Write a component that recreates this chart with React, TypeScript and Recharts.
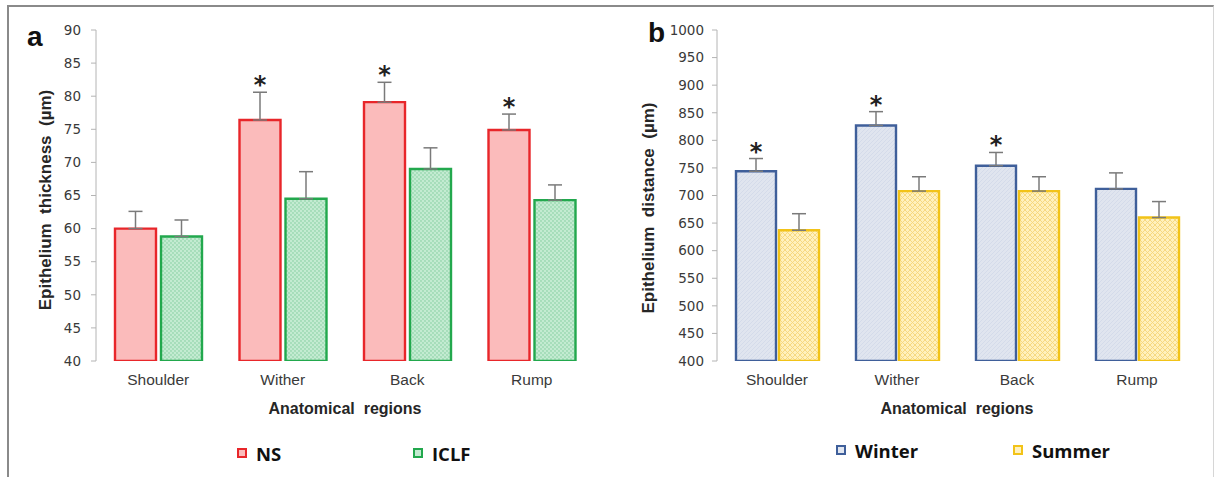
import React from 'react';
import { BarChart, Bar, XAxis, YAxis, ErrorBar, LabelList, Label } from 'recharts';

// Panel a — epithelium thickness by anatomical region
const categories = ['Shoulder', 'Wither', 'Back', 'Rump'];
const nsValues = [60.0, 76.4, 79.1, 74.9];
const nsErrors = [2.6, 4.2, 3.0, 2.4];
const nsSignificant = [false, true, true, true];
const iclfValues = [58.8, 64.5, 69.0, 64.3];
const iclfErrors = [2.5, 4.1, 3.2, 2.3];
const thicknessTicks = [40, 45, 50, 55, 60, 65, 70, 75, 80, 85, 90];

// Panel b — epithelium distance by season
const winterValues = [744, 827, 754, 712];
const winterErrors = [23, 25, 24, 29];
const winterSignificant = [true, true, true, false];
const summerValues = [637, 708, 708, 660];
const summerErrors = [30, 26, 26, 29];
const distanceTicks = [400, 450, 500, 550, 600, 650, 700, 750, 800, 850, 900, 950, 1000];

const edgeTicks = [0, 1, 2, 3, 4];

const thicknessData = categories.map((name, i) => ({
    name,
    a: nsValues[i],
    aErr: [0, nsErrors[i]],
    b: iclfValues[i],
    bErr: [0, iclfErrors[i]],
}));

const distanceData = categories.map((name, i) => ({
    name,
    a: winterValues[i],
    aErr: [0, winterErrors[i]],
    b: summerValues[i],
    bErr: [0, summerErrors[i]],
}));

const AXIS_GREY = '#b4b4b4';
const TICK_TEXT = '#3a3a3a';

// asterisk above the error whisker of significant bars
function starLabel(errors: number[], flags: boolean[], yMin: number) {
    return (props: any) => {
        const { x, y, width, height, value, index } = props;
        if (!flags[index]) return null;
        const pxPerUnit = Number(height) / (Number(value) - yMin);
        const errTop = Number(y) - errors[index] * pxPerUnit;
        const cx = Number(x) + Number(width) / 2;
        return (
            <text
                x={cx}
                y={errTop - 13 + 14}
                textAnchor="middle"
                fontSize={24}
                fontWeight={700}
                fontFamily="DejaVu Sans, sans-serif"
                fill="#222"
            >
                *
            </text>
        );
    };
}

function yTitle(text: string, dx: number, cy: number) {
    return (props: any) => {
        const vb = props.viewBox || {};
        const x = (vb.x ?? 0) + dx;
        return (
            <text
                x={x}
                y={cy}
                transform={`rotate(-90, ${x}, ${cy})`}
                textAnchor="middle"
                dominantBaseline="central"
                fontSize={17}
                fontWeight={700}
                fontFamily="Liberation Sans, Arial, sans-serif"
                fill="#262626"
                style={{ whiteSpace: 'pre' }}
            >
                {text}
            </text>
        );
    };
}

function xTitle(props: any) {
    const vb = props.viewBox || {};
    const x = (vb.x ?? 0) + (vb.width ?? 0) / 2;
    return (
        <text
            x={x}
            y={(vb.y ?? 0) + 47}
            textAnchor="middle"
            dominantBaseline="central"
            fontSize={16}
            fontWeight={700}
            fontFamily="Liberation Sans, Arial, sans-serif"
            fill="#262626"
            style={{ whiteSpace: 'pre' }}
        >
            Anatomical  regions
        </text>
    );
}

interface PanelProps {
    data: typeof thicknessData;
    letter: string;
    domain: [number, number];
    ticks: number[];
    title: string;
    titleDx: number;
    titleCy: number;
    marginLeft: number;
    marginRight: number;
    barSize: number;
    barGap: number;
    aStroke: string;
    aFill: string;
    bStroke: string;
    bFill: string;
    aErrors: number[];
    aFlags: boolean[];
    tickMargin: number;
    defs: React.ReactNode;
}

function Panel(p: PanelProps) {
    return (
        <BarChart
            width={606}
            height={477}
            data={p.data}
            margin={{ top: 30, right: p.marginRight, left: p.marginLeft, bottom: 86 }}
            barSize={p.barSize}
            barGap={p.barGap}
        >
            {p.defs}
            <XAxis
                xAxisId="edges"
                type="number"
                domain={[0, 4]}
                ticks={edgeTicks}
                height={0}
                tick={false}
                tickSize={5}
                stroke={AXIS_GREY}
                allowDataOverflow
            />
            <XAxis
                dataKey="name"
                height={30}
                axisLine={false}
                tickLine={false}
                tickSize={6}
                tickMargin={7}
                tick={{ fontSize: 15.5, fill: TICK_TEXT, fontFamily: 'Liberation Sans, Arial, sans-serif' }}
            >
                <Label content={xTitle} />
            </XAxis>
            <YAxis
                width={60}
                domain={p.domain}
                ticks={p.ticks}
                interval={0}
                allowDataOverflow
                stroke={AXIS_GREY}
                tickSize={5}
                tickMargin={p.tickMargin}
                tick={{ fontSize: 13.5, fill: TICK_TEXT, fontFamily: 'DejaVu Sans, sans-serif' }}
            >
                <Label content={yTitle(p.title, p.titleDx, p.titleCy)} />
            </YAxis>
            <Bar dataKey="a" fill={p.aFill} stroke={p.aStroke} strokeWidth={2.4} isAnimationActive={false}>
                <ErrorBar dataKey="aErr" width={7} stroke="#7a7a7a" strokeWidth={1.5} direction="y" />
                <LabelList dataKey="a" content={starLabel(p.aErrors, p.aFlags, p.domain[0])} />
            </Bar>
            <Bar dataKey="b" fill={p.bFill} stroke={p.bStroke} strokeWidth={2.4} isAnimationActive={false}>
                <ErrorBar dataKey="bErr" width={7} stroke="#7a7a7a" strokeWidth={1.5} direction="y" />
            </Bar>
            <text
                x={p.marginLeft - 9}
                y={p.letter === 'a' ? 46 : 42}
                textAnchor="start"
                fontSize={28}
                fontWeight={700}
                fontFamily="Liberation Sans, Arial, sans-serif"
                fill="#111"
            >
                {p.letter}
            </text>
        </BarChart>
    );
}

function LegendItem({ left, top, stroke, fill, label }: { left: number; top: number; stroke: string; fill: string; label: string }) {
    return (
        <div style={{ position: 'absolute', left, top, height: 26, display: 'flex', alignItems: 'center' }}>
            <div style={{ width: 10, height: 10, boxSizing: 'border-box', border: `2px solid ${stroke}`, background: fill }} />
            <span style={{ marginLeft: 9, fontFamily: 'Open Sans, sans-serif', fontWeight: 700, fontSize: 18.5, color: '#111' }}>
                {label}
            </span>
        </div>
    );
}

export default function App() {
    const leftDefs = (
        <defs>
            <pattern id="iclfDots" width="4" height="4" patternUnits="userSpaceOnUse">
                <rect width="4" height="4" fill="#c3ebd1" />
                <circle cx="1" cy="1" r="0.9" fill="#9ad8b0" />
                <circle cx="3" cy="3" r="0.9" fill="#9ad8b0" />
            </pattern>
        </defs>
    );
    const rightDefs = (
        <defs>
            <pattern id="winterHatch" width="4" height="4" patternUnits="userSpaceOnUse">
                <rect width="4" height="4" fill="#e0e5ef" />
                <path d="M0,4 L4,0 M-1,1 L1,-1 M3,5 L5,3" stroke="#cdd5e5" strokeWidth="0.6" />
            </pattern>
            <pattern id="summerHatch" width="5" height="5" patternUnits="userSpaceOnUse">
                <rect width="5" height="5" fill="#fff1bd" />
                <path d="M0,5 L5,0 M0,0 L5,5" stroke="#f6d67a" strokeWidth="0.9" />
            </pattern>
        </defs>
    );

    return (
        <div style={{ position: 'absolute', left: 0, top: 0, width: 1216, height: 477, background: '#fff', overflow: 'hidden' }}>
            <div
                style={{
                    position: 'absolute', left: 7, top: 5, width: 1207, height: 480, boxSizing: 'border-box',
                    borderTop: '2px solid #8a8a8a', borderLeft: '2px solid #8a8a8a', borderRight: '1px solid #d6d6d6',
                }}
            />
            <div style={{ position: 'absolute', left: 0, top: 0 }}>
                <Panel
                    data={thicknessData}
                    letter="a"
                    domain={[40, 90]}
                    ticks={thicknessTicks}
                    title="Epithelium  thickness  (µm)"
                    titleDx={9}
                    titleCy={200}
                    marginLeft={36}
                    marginRight={12}
                    barSize={41}
                    barGap={5}
                    aStroke="#e8262a"
                    aFill="#fbbbbb"
                    bStroke="#22a84d"
                    bFill="url(#iclfDots)"
                    aErrors={nsErrors}
                    aFlags={nsSignificant}
                    tickMargin={10}
                    defs={leftDefs}
                />
            </div>
            <div style={{ position: 'absolute', left: 610, top: 0 }}>
                <Panel
                    data={distanceData}
                    letter="b"
                    domain={[400, 1000]}
                    ticks={distanceTicks}
                    title="Epithelium  distance  (µm)"
                    titleDx={-9}
                    titleCy={208}
                    marginLeft={47}
                    marginRight={19}
                    barSize={40}
                    barGap={3}
                    aStroke="#3f5f9a"
                    aFill="url(#winterHatch)"
                    bStroke="#f2c318"
                    bFill="url(#summerHatch)"
                    aErrors={winterErrors}
                    aFlags={winterSignificant}
                    tickMargin={8}
                    defs={rightDefs}
                />
            </div>
            <LegendItem left={237} top={440} stroke="#e8262a" fill="#fbbbbb" label="NS" />
            <LegendItem left={413} top={440} stroke="#22a84d" fill="#c3ebd1" label="ICLF" />
            <LegendItem left={836} top={437} stroke="#3f5f9a" fill="#e1e6f0" label="Winter" />
            <LegendItem left={1013} top={437} stroke="#f2c318" fill="#fff1bd" label="Summer" />
        </div>
    );
}
